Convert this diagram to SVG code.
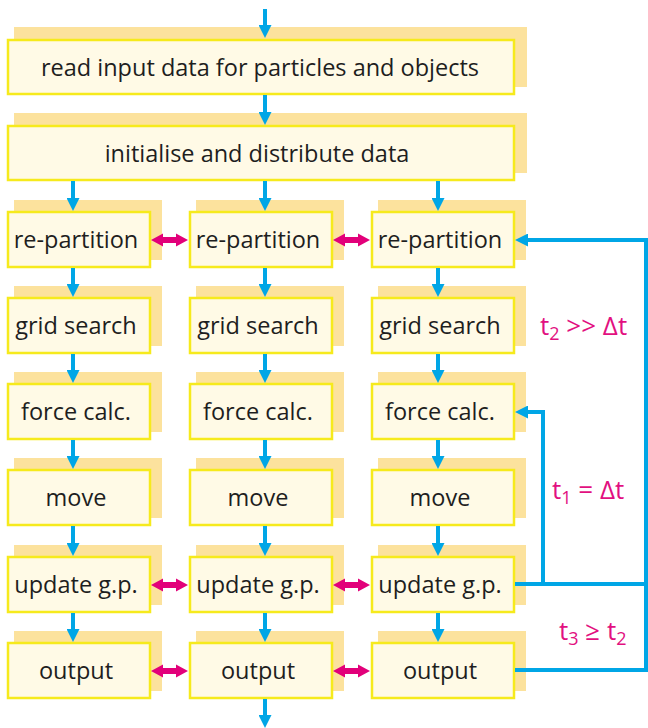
<svg xmlns="http://www.w3.org/2000/svg" width="648" height="728" viewBox="0 0 648 728">
<style>
.sh{fill:#fce29d}
.bx{fill:#fffae6;stroke:#f6ea1c;stroke-width:2.5}
.tx{font-family:"Open Sans","Liberation Sans",sans-serif;font-size:23.5px;fill:#1e1e1e;text-anchor:middle}
.fl{fill:none;stroke:#00a6e6;stroke-width:4}
.pk{fill:#e2007a}
.lb{font-family:"Open Sans","Liberation Sans",sans-serif;font-size:26px;fill:#e2107f}
.sub{font-size:18px}
</style>
<defs>
<marker id="ah" markerUnits="userSpaceOnUse" markerWidth="13" markerHeight="13" refX="0" refY="6.5" orient="auto">
<path d="M0,0 L13,6.5 L0,13 z" fill="#00a6e6"/>
</marker>
</defs>

<g id="n-read">
<rect class="sh" x="14" y="27" width="513" height="60"/>
<rect class="bx" x="8" y="40" width="506" height="54"/>
<text class="tx" x="260" y="76">read input data for particles and objects</text>
</g>
<g id="n-init">
<rect class="sh" x="14" y="113" width="513" height="60"/>
<rect class="bx" x="8" y="126" width="506" height="54"/>
<text class="tx" x="257" y="162">initialise and distribute data</text>
</g>

<g id="n-rp1"><rect class="sh" x="14" y="200" width="148" height="60"/><rect class="bx" x="8" y="212" width="142" height="55"/><text class="tx" x="76" y="248">re-partition</text></g>
<g id="n-rp2"><rect class="sh" x="196" y="200" width="148" height="60"/><rect class="bx" x="190" y="212" width="142" height="55"/><text class="tx" x="258" y="248">re-partition</text></g>
<g id="n-rp3"><rect class="sh" x="378" y="200" width="148" height="60"/><rect class="bx" x="372" y="212" width="142" height="55"/><text class="tx" x="440" y="248">re-partition</text></g>

<g id="n-gs1"><rect class="sh" x="14" y="286" width="148" height="60"/><rect class="bx" x="8" y="298" width="142" height="55"/><text class="tx" x="76" y="334">grid search</text></g>
<g id="n-gs2"><rect class="sh" x="196" y="286" width="148" height="60"/><rect class="bx" x="190" y="298" width="142" height="55"/><text class="tx" x="258" y="334">grid search</text></g>
<g id="n-gs3"><rect class="sh" x="378" y="286" width="148" height="60"/><rect class="bx" x="372" y="298" width="142" height="55"/><text class="tx" x="440" y="334">grid search</text></g>

<g id="n-fc1"><rect class="sh" x="14" y="372" width="148" height="60"/><rect class="bx" x="8" y="384" width="142" height="55"/><text class="tx" x="76" y="420">force calc.</text></g>
<g id="n-fc2"><rect class="sh" x="196" y="372" width="148" height="60"/><rect class="bx" x="190" y="384" width="142" height="55"/><text class="tx" x="258" y="420">force calc.</text></g>
<g id="n-fc3"><rect class="sh" x="378" y="372" width="148" height="60"/><rect class="bx" x="372" y="384" width="142" height="55"/><text class="tx" x="440" y="420">force calc.</text></g>

<g id="n-mv1"><rect class="sh" x="14" y="458" width="148" height="60"/><rect class="bx" x="8" y="470" width="142" height="55"/><text class="tx" x="76" y="506">move</text></g>
<g id="n-mv2"><rect class="sh" x="196" y="458" width="148" height="60"/><rect class="bx" x="190" y="470" width="142" height="55"/><text class="tx" x="258" y="506">move</text></g>
<g id="n-mv3"><rect class="sh" x="378" y="458" width="148" height="60"/><rect class="bx" x="372" y="470" width="142" height="55"/><text class="tx" x="440" y="506">move</text></g>

<g id="n-up1"><rect class="sh" x="14" y="545" width="148" height="60"/><rect class="bx" x="8" y="557" width="142" height="55"/><text class="tx" x="76" y="593">update g.p.</text></g>
<g id="n-up2"><rect class="sh" x="196" y="545" width="148" height="60"/><rect class="bx" x="190" y="557" width="142" height="55"/><text class="tx" x="258" y="593">update g.p.</text></g>
<g id="n-up3"><rect class="sh" x="378" y="545" width="148" height="60"/><rect class="bx" x="372" y="557" width="142" height="55"/><text class="tx" x="440" y="593">update g.p.</text></g>

<g id="n-out1"><rect class="sh" x="14" y="631" width="148" height="60"/><rect class="bx" x="8" y="643" width="142" height="55"/><text class="tx" x="76" y="679">output</text></g>
<g id="n-out2"><rect class="sh" x="196" y="631" width="148" height="60"/><rect class="bx" x="190" y="643" width="142" height="55"/><text class="tx" x="258" y="679">output</text></g>
<g id="n-out3"><rect class="sh" x="378" y="631" width="148" height="60"/><rect class="bx" x="372" y="643" width="142" height="55"/><text class="tx" x="440" y="679">output</text></g>

<g id="connectors">
<g class="fl" marker-end="url(#ah)">
<path d="M265,9 V25"/>
<path d="M265,95 V112"/>
<path d="M265,181 V198"/>
<path d="M73,181 V198"/><path d="M438,181 V198"/>
<path d="M73,268 V284"/><path d="M265,268 V284"/><path d="M438,268 V284"/>
<path d="M73,354 V370"/><path d="M265,354 V370"/><path d="M438,354 V370"/>
<path d="M73,440 V456"/><path d="M265,440 V456"/><path d="M438,440 V456"/>
<path d="M73,526 V543"/><path d="M265,526 V543"/><path d="M438,526 V543"/>
<path d="M73,613 V629"/><path d="M265,613 V629"/><path d="M438,613 V629"/>
<path d="M265,699 V715"/>
<path d="M515,670 H646 V240 H528"/>
<path d="M543,584 V412 H528"/>
</g>
<path class="fl" d="M515,584 H646"/>
<g class="pk">
<polygon points="151,240 163,233.5 163,237 176,237 176,233.5 188,240 176,246.5 176,243 163,243 163,246.5"/>
<polygon points="333,240 345,233.5 345,237 358,237 358,233.5 370,240 358,246.5 358,243 345,243 345,246.5"/>
<polygon points="151,585 163,578.5 163,582 176,582 176,578.5 188,585 176,591.5 176,588 163,588 163,591.5"/>
<polygon points="333,585 345,578.5 345,582 358,582 358,578.5 370,585 358,591.5 358,588 345,588 345,591.5"/>
<polygon points="151,671 163,664.5 163,668 176,668 176,664.5 188,671 176,677.5 176,674 163,674 163,677.5"/>
<polygon points="333,671 345,664.5 345,668 358,668 358,664.5 370,671 358,677.5 358,674 345,674 345,677.5"/>
</g>
</g>

<text class="lb" x="540" y="335">t<tspan class="sub" dy="5">2</tspan><tspan dy="-5"> &gt;&gt; Δt</tspan></text>
<text class="lb" x="552" y="499">t<tspan class="sub" dy="5">1</tspan><tspan dy="-5"> = Δt</tspan></text>
<text class="lb" x="559" y="640">t<tspan class="sub" dy="5">3</tspan><tspan dy="-5"> ≥ t</tspan><tspan class="sub" dy="5">2</tspan></text>
</svg>
